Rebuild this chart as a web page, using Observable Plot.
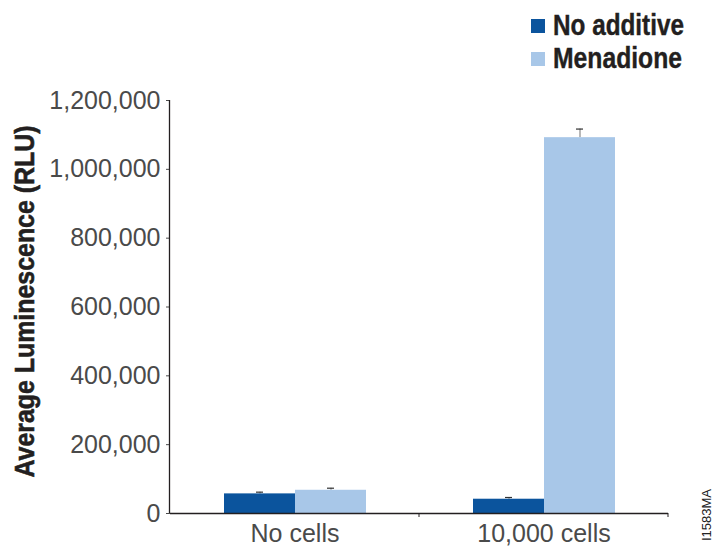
<!DOCTYPE html>
<html><head><meta charset="utf-8">
<script src="https://cdn.jsdelivr.net/npm/d3@7"></script>
<script src="https://cdn.jsdelivr.net/npm/@observablehq/plot@0.6"></script>
<style>
body{margin:0;background:#fff;}
#wrap{position:relative;width:714px;height:546px;overflow:hidden;}
#wrap svg{position:absolute;left:0;top:0;}
.cond{font-family:"Liberation Sans",sans-serif;font-weight:bold;fill:#231f20;}
</style></head><body><div id="wrap"></div>
<script>
const groups = ["No cells", "10,000 cells"];
const series = ["No additive", "Menadione"];
const noAdditive = [57000, 41500];
const menadione = [67500, 1092000];
const noAdditiveErr = [5000, 5000];
const menadioneErr = [6000, 25000];
const yTicks = [0, 200000, 400000, 600000, 800000, 1000000, 1200000];
const colors = ["#0b549d", "#a8c7e8"];
const yLabel = "Average Luminescence (RLU)";
const figCode = "I1583MA";

const data = groups.flatMap((g, i) => [
  {group: g, series: series[0], value: noAdditive[i], err: noAdditiveErr[i]},
  {group: g, series: series[1], value: menadione[i], err: menadioneErr[i]}
]);

const chart = Plot.plot({
  width: 714,
  height: 546,
  marginLeft: 169,
  marginRight: 46,
  marginTop: 100,
  marginBottom: 33,
  style: {fontFamily: "Liberation Sans, sans-serif", fontSize: "22px", color: "#4a4a4a", background: "transparent"},
  fx: {domain: groups, padding: 0, label: null},
  x: {domain: series, paddingInner: 0, paddingOuter: 0.75, axis: null},
  y: {domain: [0, 1200000], label: null},
  color: {domain: series, range: colors},
  marks: [
    Plot.ruleX(data, {fx: "group", x: "series", y1: "value", y2: d => d.value + d.err, stroke: "#8a8a8a", strokeWidth: 1.2}),
    Plot.tickY(data, {fx: "group", x: "series", y: d => d.value + d.err, stroke: "#333", strokeWidth: 1.2, insetLeft: 32, insetRight: 32}),
    Plot.barY(data, {fx: "group", x: "series", y: "value", fill: "series"}),
    Plot.ruleY([0], {stroke: "#231f20", strokeWidth: 1.3}),
    Plot.axisFx({anchor: "bottom", tickSize: 0, tickPadding: 11, fontSize: 25, label: null}),
    Plot.axisY({ticks: yTicks, tickFormat: d3.format(","), tickSize: 4, tickPadding: 6, fontSize: 25, label: null})
  ]
});
document.getElementById("wrap").appendChild(chart);

const svgns = "http://www.w3.org/2000/svg";
const ys = chart.scale("y");
const fxs = chart.scale("fx");
const el = (tag, attrs, text) => {
  const e = document.createElementNS(svgns, tag);
  for (const k in attrs) e.setAttribute(k, attrs[k]);
  if (text != null) e.textContent = text;
  chart.appendChild(e);
  return e;
};

// vertical y axis line along the left frame
el("line", {x1: 169.5, x2: 169.5, y1: ys.apply(1200000), y2: ys.apply(0), stroke: "#231f20", "stroke-width": 1.3});
// small ticks at the category boundaries on the x axis
groups.forEach(g => {
  const xr = fxs.apply(g) + fxs.bandwidth;
  el("line", {x1: xr, x2: xr, y1: ys.apply(0), y2: ys.apply(0) + 4, stroke: "#231f20", "stroke-width": 1});
});

// y axis title, centred on the y range, condensed bold
const yMid = (ys.apply(0) + ys.apply(1200000)) / 2;
el("text", {x: 34, y: yMid - 5, transform: `rotate(-90 34 ${yMid - 5})`, class: "cond", "text-anchor": "middle",
  "font-size": 28, "stroke": "#231f20", "stroke-width": 0.6, textLength: 352, lengthAdjust: "spacingAndGlyphs"}, yLabel);

// legend
const legW = [131, 129];
series.forEach((s, i) => {
  el("rect", {x: 531, y: 19 + i * 33, width: 14, height: 14, fill: colors[i]});
  el("text", {x: 553, y: 35 + i * 33, class: "cond", "text-anchor": "start", "font-size": 29, stroke: "#231f20", "stroke-width": 0.4, textLength: legW[i], lengthAdjust: "spacingAndGlyphs"}, s);
});

// figure code
el("text", {x: 711, y: 541, "text-anchor": "start", transform: "rotate(-90 711 541)", "font-family": "Liberation Sans, sans-serif", "font-size": 12, fill: "#222", textLength: 52, lengthAdjust: "spacingAndGlyphs"}, figCode);
</script></body></html>
